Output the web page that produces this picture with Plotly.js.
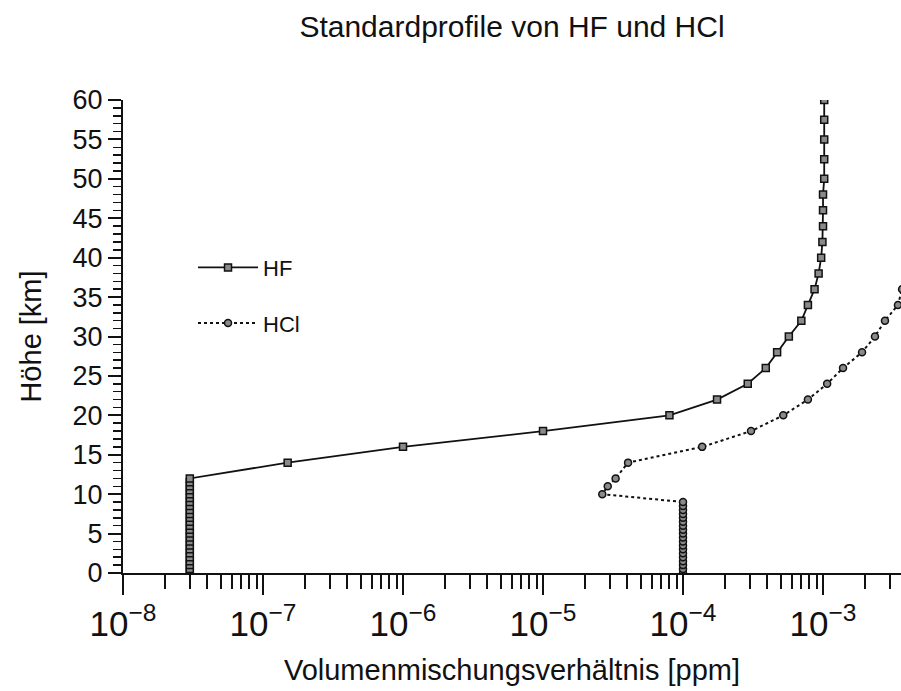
<!DOCTYPE html>
<html>
<head>
<meta charset="utf-8">
<script src="https://cdn.plot.ly/plotly-3.0.1.min.js"></script>
<style>html,body{margin:0;padding:0;background:#fff}#chart{width:901px;height:691px}</style>
</head>
<body>
<div id="chart"></div>
<script>
// HF profile: height [km] and volume mixing ratio [ppm]
var hfHeight = [0,0.5,1,1.5,2,2.5,3,3.5,4,4.5,5,5.5,6,6.5,7,7.5,8,8.5,9,9.5,10,10.5,11,11.5,12,
                14,16,18,20,22,24,26,28,30,32,34,36,38,40,42,44,46,48,50,52.5,55,57.5,60];
var hfVmr = [3e-8,3e-8,3e-8,3e-8,3e-8,3e-8,3e-8,3e-8,3e-8,3e-8,3e-8,3e-8,3e-8,3e-8,3e-8,3e-8,3e-8,3e-8,3e-8,3e-8,3e-8,3e-8,3e-8,3e-8,3e-8,
             1.5e-7,1e-6,1e-5,8e-5,1.75e-4,2.9e-4,3.9e-4,4.7e-4,5.7e-4,7.0e-4,7.8e-4,8.7e-4,9.3e-4,9.7e-4,
             9.9e-4,1.0e-3,1.0e-3,1.0e-3,1.02e-3,1.02e-3,1.02e-3,1.02e-3,1.02e-3];
// HCl profile
var hclHeight = [0,0.5,1,1.5,2,2.5,3,3.5,4,4.5,5,5.5,6,6.5,7,7.5,8,8.5,9,
                 10,11,12,14,16,18,20,22,24,26,28,30,32,34,36];
var hclVmr = [1e-4,1e-4,1e-4,1e-4,1e-4,1e-4,1e-4,1e-4,1e-4,1e-4,1e-4,1e-4,1e-4,1e-4,1e-4,1e-4,1e-4,1e-4,1e-4,
              2.65e-5,2.9e-5,3.3e-5,4.05e-5,1.37e-4,3.06e-4,5.2e-4,7.8e-4,1.07e-3,1.39e-3,1.9e-3,2.35e-3,2.77e-3,3.43e-3,3.67e-3];
var seriesNames = ["HF", "HCl"];
var titleText = "Standardprofile von HF und HCl";
var xTitle = "Volumenmischungsverhältnis [ppm]";
var yTitle = "Höhe [km]";

var FONT = "Liberation Sans, Arial, sans-serif";

var traces = [
  {
    x: hfVmr, y: hfHeight, name: seriesNames[0], legendgroup: "a", type: "scatter", mode: "lines+markers",
    line: {color: "#111", width: 1.8},
    marker: {symbol: "square", size: 7, color: "#8a8a8a", line: {color: "#111", width: 1.5}},
    cliponaxis: true
  },
  {
    x: hclVmr, y: hclHeight, name: seriesNames[1], legendgroup: "b", type: "scatter", mode: "lines+markers",
    line: {color: "#111", width: 2, dash: "dot"},
    marker: {symbol: "circle", size: 7, color: "#8a8a8a", line: {color: "#111", width: 1.5}},
    cliponaxis: true
  }
];

var layout = {
  width: 901, height: 691,
  paper_bgcolor: "#fff", plot_bgcolor: "#fff",
  margin: {l: 123, r: 0, t: 100, b: 118},
  font: {family: FONT, color: "#111", size: 24},
  title: {text: titleText, font: {family: FONT, size: 30, color: "#111"}, x: 0.5, xref: "paper", y: 0.962, yref: "container", yanchor: "middle"},
  showlegend: true,
  legend: {x: 0.09, y: 0.69, xanchor: "left", yanchor: "top", bgcolor: "rgba(0,0,0,0)", tracegroupgap: 24,
           font: {family: FONT, size: 22, color: "#111"}, itemwidth: 60},
  xaxis: {
    type: "log", range: [-8, -2.443], dtick: 1, exponentformat: "power", showexponent: "all",
    showgrid: false, zeroline: false, showline: true, linecolor: "#111", linewidth: 2,
    ticks: "outside", ticklen: 20, tickwidth: 2, tickcolor: "#111",
    tickfont: {family: FONT, size: 28, color: "#111"},
    minor: {ticks: "outside", ticklen: 14, tickwidth: 2, tickcolor: "#111", dtick: "D1", showgrid: false},
    title: {text: xTitle, font: {family: FONT, size: 29, color: "#111"}, standoff: 18},
    automargin: false
  },
  yaxis: {
    range: [0, 60], dtick: 5, showgrid: false, zeroline: false, showline: true, linecolor: "#111", linewidth: 2,
    ticks: "outside", ticklen: 13, tickwidth: 2, tickcolor: "#111",
    tickfont: {family: FONT, size: 27, color: "#111"},
    minor: {ticks: "outside", ticklen: 8, tickwidth: 1.5, tickcolor: "#111", dtick: 1, showgrid: false},
    title: {text: yTitle, font: {family: FONT, size: 29, color: "#111"}, standoff: 22},
    automargin: false
  }
};

Plotly.newPlot("chart", traces, layout, {displayModeBar: false, staticPlot: true});
</script>
</body>
</html>
